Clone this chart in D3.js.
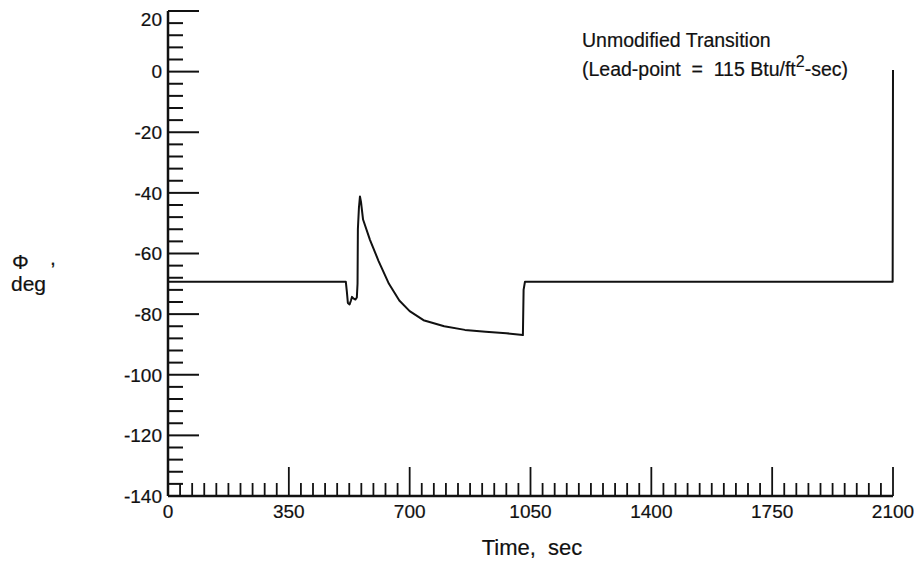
<!DOCTYPE html>
<html>
<head>
<meta charset="utf-8">
<script src="https://cdn.jsdelivr.net/npm/d3@7"></script>
<style>
  html, body { margin: 0; padding: 0; background: #fff; }
  svg { display: block; font-family: "Liberation Sans", Arial, sans-serif; }
  text { white-space: pre; }
</style>
</head>
<body>
<svg id="chart" width="922" height="562"></svg>
<script>
// Phi (deg) vs time (sec) — unmodified transition
const timeSec = [0, 515, 518, 521, 526, 530, 533, 537, 543, 547, 549, 550, 553, 556, 559,
  565, 585, 610, 640, 670, 700, 740, 800, 860, 920, 980, 1028, 1030, 1034, 2099, 2100];
const phiDeg = [-69.3, -69.3, -72.5, -76.3, -76.8, -75.5, -74.3, -74.8, -75.2, -74.5, -70, -52, -45, -41.2, -43,
  -48.8, -55.5, -62.5, -70, -75.5, -79, -82, -84, -85.2, -85.8, -86.3, -86.9, -72, -69.3, -69.3, 0.5];

const xMajor = [0, 350, 700, 1050, 1400, 1750, 2100];
const yMajor = [20, 0, -20, -40, -60, -80, -100, -120, -140];
const xMinorStep = 35, yMinorStep = 4;

const titleLines = ['Unmodified Transition', '(Lead-point  =  115 Btu/ft', '-sec)'];

const svg = d3.select('#chart');
const x = d3.scaleLinear().domain([0, 2100]).range([168, 893]);
const y = d3.scaleLinear().domain([-140, 20]).range([496, 11]);

const ink = '#111';
// scanned look: text a touch heavier than plain regular
const heavy = sel => sel.attr('fill', ink).attr('stroke', ink).attr('stroke-width', 0.2);

// axes lines
svg.append('line').attr('x1', x(0)).attr('x2', x(0)).attr('y1', y(20)).attr('y2', y(-140))
  .attr('stroke', ink).attr('stroke-width', 2.5);
svg.append('line').attr('x1', x(0)).attr('x2', x(2100)).attr('y1', y(-140)).attr('y2', y(-140))
  .attr('stroke', ink).attr('stroke-width', 2.5);

// y ticks, pointing inward
const yTicks = d3.range(-140, 20 + 0.1, yMinorStep);
svg.append('g').selectAll('line').data(yTicks).join('line')
  .attr('x1', x(0)).attr('x2', d => x(0) + (d % 20 === 0 ? 31 : 15))
  .attr('y1', d => y(d)).attr('y2', d => y(d))
  .attr('stroke', ink).attr('stroke-width', 2);

// x ticks, pointing up
const xTicks = d3.range(0, 2100 + 0.1, xMinorStep);
svg.append('g').selectAll('line').data(xTicks).join('line')
  .attr('x1', d => x(d)).attr('x2', d => x(d))
  .attr('y1', y(-140)).attr('y2', d => y(-140) - (d % 350 === 0 ? 29 : 13))
  .attr('stroke', ink).attr('stroke-width', 1.8);

// tick labels
svg.append('g').call(heavy).selectAll('text').data(yMajor).join('text')
  .attr('x', 162).attr('y', d => y(d) + (d === 20 ? 8 : 0)).attr('dy', '0.36em')
  .attr('text-anchor', 'end').attr('font-size', 19)
  .text(d => String(d));
svg.append('g').call(heavy).selectAll('text').data(xMajor).join('text')
  .attr('x', d => x(d)).attr('y', 518)
  .attr('text-anchor', 'middle').attr('font-size', 19)
  .text(d => d);

// axis titles
svg.append('text').call(heavy).attr('x', 532).attr('y', 555).attr('text-anchor', 'middle')
  .attr('font-size', 22).text('Time,  sec');
svg.append('text').call(heavy).attr('x', 12).attr('y', 269).attr('font-size', 21).text('\u03A6');
svg.append('text').call(heavy).attr('x', 50).attr('y', 265).attr('font-size', 21).text(',');
svg.append('text').call(heavy).attr('x', 11).attr('y', 291).attr('font-size', 21).text('deg');

// annotation
const note = svg.append('g').call(heavy).attr('font-size', 19.5);
note.append('text').attr('x', 582).attr('y', 47).text(titleLines[0]);
const l2 = note.append('text').attr('x', 582).attr('y', 76);
l2.append('tspan').text(titleLines[1]);
l2.append('tspan').attr('dy', -9).attr('font-size', 16).text('2');
l2.append('tspan').attr('dy', 9).text(titleLines[2]);

// data curve
const pts = timeSec.map((t, i) => [t, phiDeg[i]]);
const line = d3.line().x(d => x(d[0])).y(d => y(d[1])).curve(d3.curveLinear);
svg.append('path').datum(pts).attr('d', line)
  .attr('fill', 'none').attr('stroke', ink).attr('stroke-width', 2).attr('stroke-linejoin', 'round');
</script>
</body>
</html>
